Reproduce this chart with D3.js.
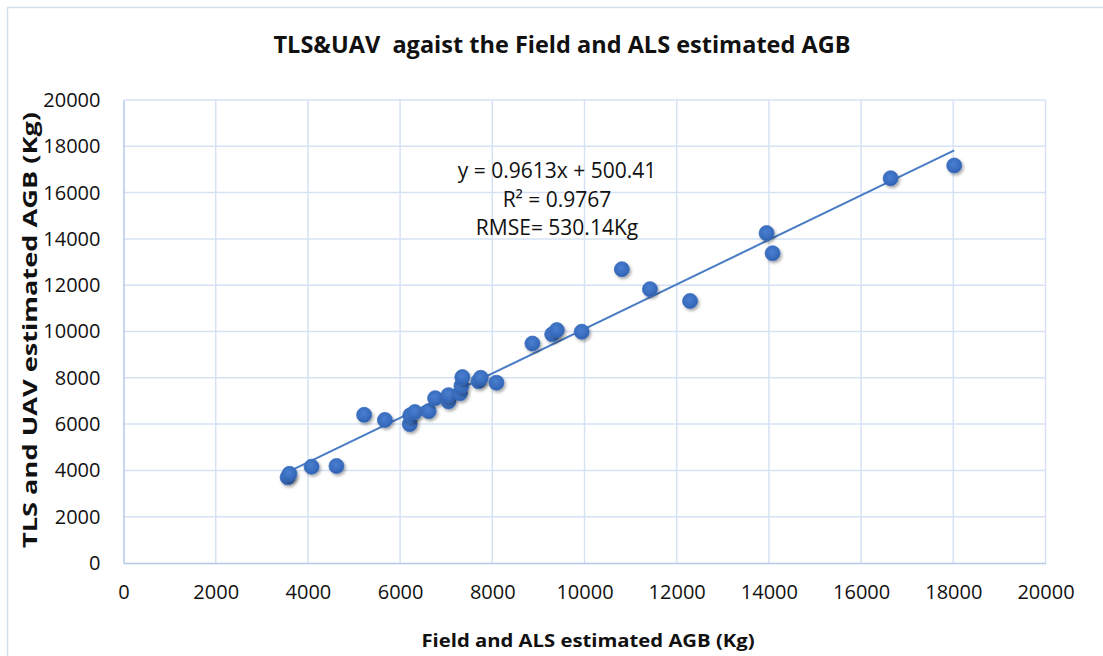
<!DOCTYPE html>
<html>
<head>
<meta charset="utf-8">
<script src="https://cdn.jsdelivr.net/npm/d3@7"></script>
<style>
  html, body { margin: 0; padding: 0; background: #fff; }
  #chart { width: 1103px; height: 656px; }
</style>
</head>
<body>
<div id="chart"></div>
<script>
// 데이터
// ============================================================
const fieldAGB = [3560, 3600, 4080, 4620, 5220, 5670, 6210, 6220, 6320, 6620,
                  6760, 7050, 7050, 7300, 7330, 7350, 7700, 7750, 8090, 8870,
                  9300, 9400, 9940, 10810, 11420, 12290, 13950, 14080, 16640, 18020];
const tlsAGB   = [3700, 3850, 4160, 4190, 6400, 6180, 6000, 6380, 6520, 6560,
                  7120, 6980, 7250, 7330, 7650, 8030, 7850, 8000, 7790, 9480,
                  9880, 10060, 9990, 12690, 11830, 11320, 14250, 13380, 16620, 17170];
const xTicks = [0, 2000, 4000, 6000, 8000, 10000, 12000, 14000, 16000, 18000, 20000];
const yTicks = [0, 2000, 4000, 6000, 8000, 10000, 12000, 14000, 16000, 18000, 20000];
const trendSlope = 0.9613, trendIntercept = 500.41;
const labelLines = ['y = 0.9613x + 500.41', 'R² = 0.9767', 'RMSE= 530.14Kg'];

function drawChart() {
  const WIDTH = 1103, HEIGHT = 656;
  const plot = { left: 123.5, right: 1045.5, top: 100, bottom: 563 };
  const FONT = '"Open Sans", "Noto Sans", sans-serif';

  const svg = d3.select('#chart').append('svg')
    .attr('width', WIDTH).attr('height', HEIGHT)
    .style('font-family', FONT);

  // 마커 그라디언트 + 그림자
  const defs = svg.append('defs');
  const grad = defs.append('radialGradient').attr('id', 'dotGrad')
    .attr('cx', '45%').attr('cy', '40%').attr('r', '60%');
  grad.append('stop').attr('offset', '0%').attr('stop-color', '#4a7fcf');
  grad.append('stop').attr('offset', '75%').attr('stop-color', '#376bbd');
  grad.append('stop').attr('offset', '100%').attr('stop-color', '#2c5ca8');
  defs.append('filter').attr('id', 'dotShadow')
    .attr('x', '-50%').attr('y', '-50%').attr('width', '200%').attr('height', '200%')
    .append('feDropShadow')
    .attr('dx', 1.5).attr('dy', 2).attr('stdDeviation', 1.6)
    .attr('flood-color', '#000').attr('flood-opacity', 0.35);

  // 차트 외곽선
  svg.append('rect')
    .attr('x', 7.5).attr('y', 7.5)
    .attr('width', WIDTH + 20).attr('height', HEIGHT + 20)
    .attr('fill', 'none').attr('stroke', '#d3deef').attr('stroke-width', 1.5);

  const x = d3.scaleLinear().domain([0, 20000]).range([plot.left, plot.right]);
  const y = d3.scaleLinear().domain([0, 20000]).range([plot.bottom, plot.top]);

  // 그리드
  svg.append('g').selectAll('line.vgrid').data(xTicks.slice(1)).join('line')
    .attr('x1', d => x(d)).attr('x2', d => x(d))
    .attr('y1', plot.top).attr('y2', plot.bottom)
    .attr('stroke', '#d6e2f3').attr('stroke-width', 1.5);
  svg.append('g').selectAll('line.hgrid').data(yTicks.slice(1)).join('line')
    .attr('x1', plot.left).attr('x2', plot.right)
    .attr('y1', d => y(d)).attr('y2', d => y(d))
    .attr('stroke', '#d6e2f3').attr('stroke-width', 1.5);

  // 축
  const xAxis = svg.append('g')
    .attr('transform', `translate(0,${plot.bottom})`)
    .call(d3.axisBottom(x).tickValues(xTicks).tickSize(0).tickPadding(22).tickFormat(d3.format('d')));
  const yAxis = svg.append('g')
    .attr('transform', `translate(${plot.left},0)`)
    .call(d3.axisLeft(y).tickValues(yTicks).tickSize(0).tickPadding(23).tickFormat(d3.format('d')));
  [xAxis, yAxis].forEach(a => {
    a.select('.domain').attr('stroke', '#b4c8e8').attr('stroke-width', 1.5);
    a.selectAll('text').attr('font-size', 20).attr('fill', '#111').style('font-family', FONT);
  });

  // 추세선
  const xMin = d3.min(fieldAGB), xMax = d3.max(fieldAGB);
  svg.append('line')
    .attr('x1', x(xMin)).attr('y1', y(trendSlope * xMin + trendIntercept))
    .attr('x2', x(xMax)).attr('y2', y(trendSlope * xMax + trendIntercept))
    .attr('stroke', '#4a7cc4').attr('stroke-width', 2);

  // 점
  const pts = fieldAGB.map((v, i) => ({ x: v, y: tlsAGB[i] }));
  svg.append('g').selectAll('circle').data(pts).join('circle')
    .attr('cx', d => x(d.x)).attr('cy', d => y(d.y)).attr('r', 7.5)
    .attr('fill', 'url(#dotGrad)')
    .attr('stroke', '#3b6fbf').attr('stroke-width', 0.8)
    .attr('filter', 'url(#dotShadow)');

  // 회귀식 라벨
  svg.append('g').selectAll('text').data(labelLines).join('text')
    .attr('x', 557).attr('y', (d, i) => 178 + i * 28.5)
    .attr('text-anchor', 'middle')
    .attr('font-size', 21).attr('fill', '#111')
    .text(d => d);

  // 제목
  svg.append('text')
    .attr('x', 562).attr('y', 53)
    .attr('text-anchor', 'middle')
    .attr('font-size', 23).attr('font-weight', 700).attr('fill', '#111')
    .attr('textLength', 577).attr('lengthAdjust', 'spacingAndGlyphs')
    .style('white-space', 'pre')
    .text('TLS&UAV  agaist the Field and ALS estimated AGB');

  // 축 제목
  svg.append('text')
    .attr('x', 588).attr('y', 647)
    .attr('text-anchor', 'middle')
    .attr('font-size', 18).attr('font-weight', 700).attr('fill', '#111')
    .attr('textLength', 333).attr('lengthAdjust', 'spacingAndGlyphs')
    .text('Field and ALS estimated AGB (Kg)');
  svg.append('text')
    .attr('transform', 'translate(37,330) rotate(-90)')
    .attr('text-anchor', 'middle')
    .attr('font-size', 19).attr('font-weight', 700).attr('fill', '#111')
    .attr('textLength', 436).attr('lengthAdjust', 'spacingAndGlyphs')
    .text('TLS and UAV estimated AGB (Kg)');
}

drawChart();
</script>
</body>
</html>
